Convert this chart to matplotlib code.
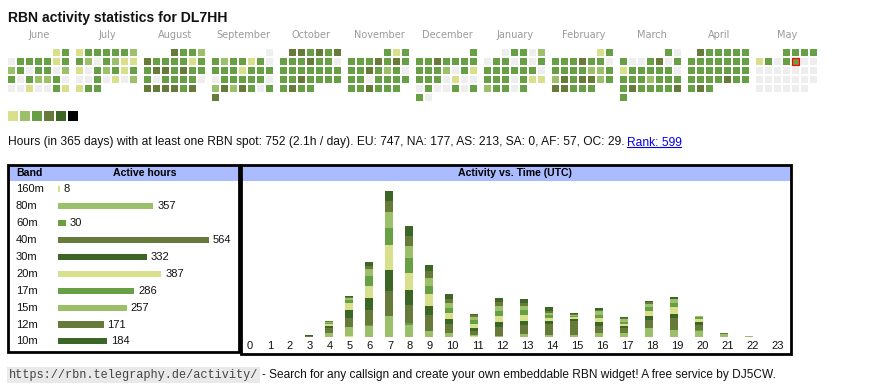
import datetime as dt
from matplotlib import pyplot as plt
from matplotlib.patches import Rectangle
import numpy as np

plt.rcParams['font.family'] = ['Liberation Sans', 'DejaVu Sans']

W, H = 870, 390

# ---------------- data ----------------
title = 'RBN activity statistics for DL7HH'
summary = ('Hours (in 365 days) with at least one RBN spot: 752 (2.1h / day). '
           'EU: 747, NA: 177, AS: 213, SA: 0, AF: 57, OC: 29.')
rank_text = 'Rank: 599'
footer_url = 'https://rbn.telegraphy.de/activity/'
footer_text = ('- Search for any callsign and create your own embeddable RBN widget! '
               'A free service by DJ5CW.')

month_names = ['June', 'July', 'August', 'September', 'October', 'November',
               'December', 'January', 'February', 'March', 'April', 'May']
month_first = [dt.date(2024, 6, 1), dt.date(2024, 7, 1), dt.date(2024, 8, 1),
               dt.date(2024, 9, 1), dt.date(2024, 10, 1), dt.date(2024, 11, 1),
               dt.date(2024, 12, 1), dt.date(2025, 1, 1), dt.date(2025, 2, 1),
               dt.date(2025, 3, 1), dt.date(2025, 4, 1), dt.date(2025, 5, 1)]
# activity level for every day of the month, one digit per day (0 = none)
day_levels = [
    '130333313230330230322300010031',
    '1333332320321110323130030102133',
    '4332433331334434333033330444434',
    '032331303331333033333024243034',
    '4434343334330333333333433333433',
    '313333434333432303303333334333',
    '3334333333320313330100030030330',
    '0330203303033333330333031123303',
    '1333343303333223243442344333',
    '3030034031333330333233334333343',
    '433333333333333333333333433343',
    '3333130330000000000000000000000',
]
today = dt.date(2025, 5, 9)
level_colors = ['#eeeeee', '#d9e08b', '#9cbf69', '#67a044', '#667a3a', '#3b6626', '#000000']

bands = ['160m', '80m', '60m', '40m', '30m', '20m', '17m', '15m', '12m', '10m']
band_hours = [8, 357, 30, 564, 332, 387, 286, 257, 171, 184]
band_colors = ['#d9e08b', '#9cbf69', '#67a044', '#667a3a', '#3b6626',
               '#d9e08b', '#67a044', '#9cbf69', '#667a3a', '#3b6626']

hours = list(range(24))
# active hours per UTC hour, per band
h_160m = [0, 0, 0, 0, 0, 4, 0, 0, 0, 0, 0, 2, 0, 0, 0, 0, 0, 0, 0, 0, 0, 0, 0, 0]
h_80m = [0, 0, 0, 0, 13, 28, 36, 66, 38, 19, 13, 3, 4, 9, 6, 6, 13, 13, 28, 22, 19, 9, 3, 0]
h_60m = [0, 0, 0, 0, 0, 0, 2, 0, 6, 0, 0, 0, 0, 0, 0, 0, 0, 0, 0, 0, 3, 0, 0, 0]
h_40m = [0, 0, 0, 3, 16, 28, 47, 79, 57, 50, 28, 13, 28, 28, 35, 44, 22, 16, 25, 38, 16, 3, 0, 0]
h_30m = [0, 0, 0, 2, 6, 25, 38, 66, 47, 28, 16, 9, 15, 13, 9, 6, 13, 6, 13, 13, 9, 0, 0, 0]
h_20m = [0, 0, 0, 0, 6, 22, 38, 79, 54, 38, 19, 13, 19, 19, 9, 6, 13, 6, 16, 22, 9, 0, 0, 0]
h_17m = [0, 0, 0, 0, 3, 9, 32, 54, 47, 25, 16, 13, 16, 16, 9, 3, 9, 6, 13, 13, 6, 0, 0, 0]
h_15m = [0, 0, 0, 0, 3, 6, 22, 50, 38, 25, 16, 9, 16, 13, 9, 3, 13, 9, 9, 13, 3, 0, 0, 0]
h_12m = [0, 0, 0, 0, 2, 3, 9, 35, 32, 22, 13, 6, 13, 9, 6, 3, 3, 3, 6, 0, 0, 0, 0, 0]
h_10m = [0, 0, 0, 0, 2, 3, 13, 32, 32, 19, 13, 6, 13, 13, 13, 6, 6, 3, 3, 6, 0, 0, 0, 0]
hourly = [h_160m, h_80m, h_60m, h_40m, h_30m, h_20m, h_17m, h_15m, h_12m, h_10m]

# ---------------- figure ----------------
fig = plt.figure(figsize=(W / 100, H / 100), dpi=100)
ax0 = fig.add_axes([0, 0, 1, 1])
ax0.set_xlim(0, W)
ax0.set_ylim(H, 0)
ax0.axis('off')


def px_axes(x0, y0, x1, y1):
    a = fig.add_axes([x0 / W, 1 - y1 / H, (x1 - x0) / W, (y1 - y0) / H])
    a.patch.set_visible(False)
    a.axis('off')
    return a


ax0.text(8, 21.7, title, fontsize=10.1, weight='bold', va='baseline', color='#111111')

# calendar
cal = px_axes(8, 49, 820, 103)
cal.set_xlim(0, 812)
cal.set_ylim(54, 0)
for m, (name, first, lev) in enumerate(zip(month_names, month_first, day_levels)):
    x0 = m * 68
    cal.text(x0 + 31.5, -10.5, name, ha='center', va='baseline', fontsize=7,
             color='#9a9a9a', family='DejaVu Sans', clip_on=False)
    for d, c in enumerate(lev):
        pos = first.weekday() + d
        day = first + dt.timedelta(days=d)
        red = day == today
        cal.add_patch(Rectangle((x0 + (pos % 7) * 9, (pos // 7) * 9), 7, 7,
                                facecolor=level_colors[int(c)],
                                edgecolor='red' if red else 'none',
                                lw=0.9 if red else 0, clip_on=False))
for i, c in enumerate(level_colors[1:]):
    cal.add_patch(Rectangle((i * 12, 62), 10, 10, facecolor=c, lw=0, clip_on=False))

# summary line
t = ax0.text(8, 145.5, summary, fontsize=8.62, va='baseline', color='#111111')
fig.canvas.draw()
rend = fig.canvas.get_renderer()
bb = t.get_window_extent(rend)
xr = bb.x1 + 2
tr = ax0.text(xr, 145.5, rank_text, fontsize=8.62, va='baseline', color='#0000ee')
bb2 = tr.get_window_extent(rend)
ax0.plot([bb2.x0, bb2.x1], [147, 147], color='#0000ee', lw=0.8)

# boxes
ax0.add_patch(Rectangle((8.3, 164.7), 230.4, 15.8, facecolor='#aabbff', lw=0))
ax0.add_patch(Rectangle((241.3, 164.7), 549.4, 15.8, facecolor='#aabbff', lw=0))
ax0.add_patch(Rectangle((8.3, 164.7), 230.4, 187.3, facecolor='none',
                        edgecolor='black', lw=2))
ax0.add_patch(Rectangle((241.3, 164.7), 549.4, 189.3, facecolor='none',
                        edgecolor='black', lw=2))
ax0.text(16, 173.3, 'Band', fontsize=7.6, weight='bold', va='center')
ax0.text(144.5, 173.3, 'Active hours', fontsize=7.6, weight='bold', va='center', ha='center')
ax0.text(515, 173.3, 'Activity vs. Time (UTC)', fontsize=7.6, weight='bold',
         va='center', ha='center')

# band table
bx = px_axes(58, 180.85, 228, 349.85)
bx.set_xlim(0, 170 / 0.2672)
bx.set_ylim(len(bands) - 0.5, -0.5)
bars = bx.barh(range(len(bands)), band_hours, height=0.36, color=band_colors)
bx.bar_label(bars, padding=2.7, fontsize=8, color='#111111')
for i, b in enumerate(bands):
    bx.annotate(b, (0, i), xycoords=('axes fraction', 'data'), xytext=(-42 * 0.72, 0),
                textcoords='offset points', ha='left', va='center', fontsize=8,
                color='#111111')

# activity vs time
hx = px_axes(240, 181, 790, 337)
widths = np.array([20 if h < 10 else 25 for h in hours])
lefts = np.concatenate([[0], np.cumsum(widths)[:-1]])
hx.set_xlim(0, widths.sum())
hx.set_ylim(0, 156 * 3.15)
bottom = np.zeros(len(hours))
for vals, c in zip(hourly, band_colors):
    hx.bar(lefts + 9, vals, width=8, bottom=bottom, color=c, lw=0)
    bottom += np.array(vals)
for h, l, w in zip(hours, lefts, widths):
    hx.annotate(str(h), (l + w / 2, 0), xytext=(0, -8.7 * 0.72), textcoords='offset points',
                ha='center', va='center', fontsize=8, color='#111111')

# footer
tu = ax0.text(8.5, 378, footer_url, fontsize=8.6, family='Liberation Mono', va='baseline',
              color='#444444', bbox=dict(facecolor='#e9e9e9', edgecolor='none', pad=1.2))
bbu = tu.get_window_extent(rend)
ax0.text(bbu.x1 + 4, 378, footer_text, fontsize=8.6, va='baseline', color='#111111')

fig.savefig('out.png', dpi=100)
